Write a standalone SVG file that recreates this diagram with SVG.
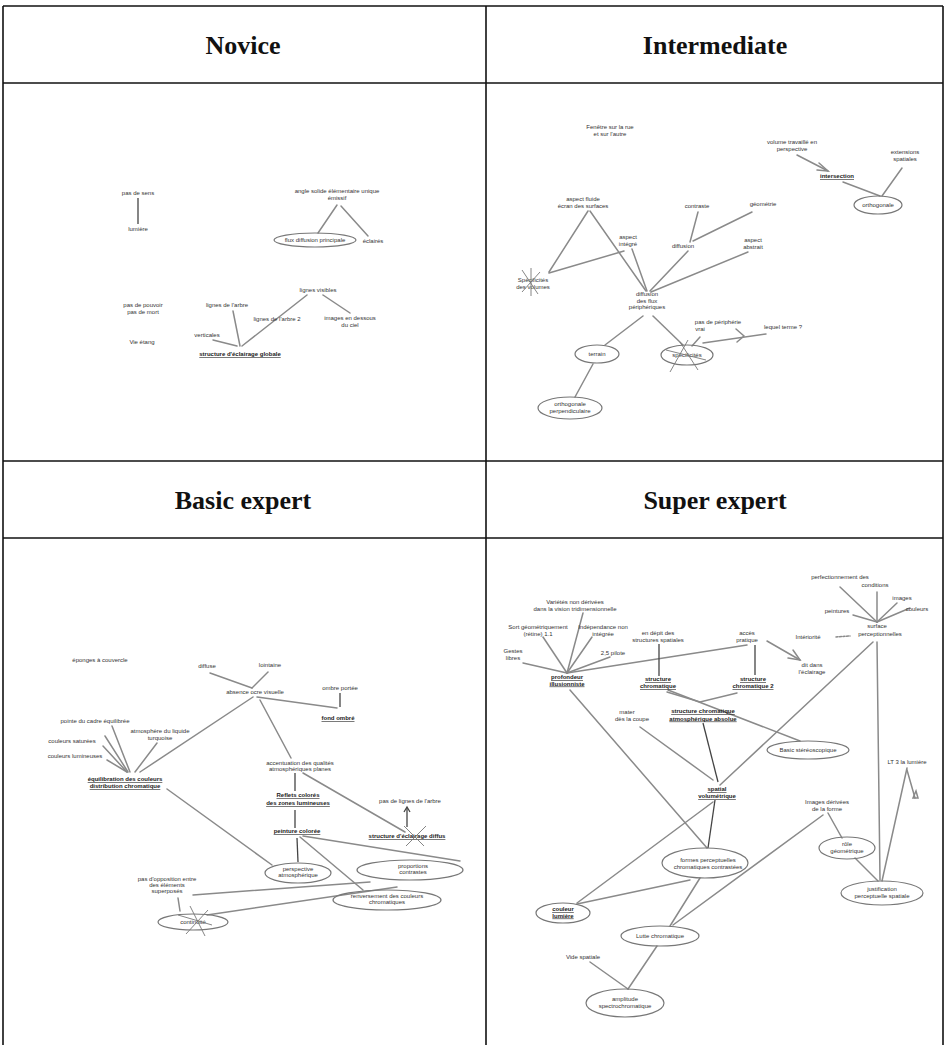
<svg xmlns="http://www.w3.org/2000/svg" width="946" height="1045" viewBox="0 0 946 1045">
<style>
.grid{stroke:#111;stroke-width:1.6;fill:none}
.hd{font-family:"Liberation Serif","Times New Roman",serif;font-weight:bold;font-size:26px;fill:#111;text-anchor:middle}
.t{font-family:"Liberation Sans",Arial,sans-serif;font-size:6px;fill:#333;text-anchor:middle}
.u{font-family:"Liberation Sans",Arial,sans-serif;font-size:6px;fill:#222;font-weight:bold;text-anchor:middle;text-decoration:underline}
.ln{stroke:#8a8a8a;stroke-width:1.5;fill:none;stroke-linecap:round}
.dk{stroke:#444;stroke-width:1.3;fill:none}
.el{stroke:#777;stroke-width:1.2;fill:none}
.x{stroke:#777;stroke-width:0.9;fill:none}
</style>
<rect width="946" height="1045" fill="#fff"/>
<g id="table">
<line class="grid" x1="3" y1="6" x2="943" y2="6"/>
<line class="grid" x1="3" y1="83" x2="943" y2="83"/>
<line class="grid" x1="3" y1="461" x2="943" y2="461"/>
<line class="grid" x1="3" y1="538" x2="943" y2="538"/>
<line class="grid" x1="3" y1="6" x2="3" y2="1045"/>
<line class="grid" x1="486" y1="6" x2="486" y2="1045"/>
<line class="grid" x1="943" y1="6" x2="943" y2="1045"/>
<text class="hd" x="243" y="54">Novice</text>
<text class="hd" x="715" y="54">Intermediate</text>
<text class="hd" x="243" y="509">Basic expert</text>
<text class="hd" x="715" y="509">Super expert</text>
</g>
<g id="connectors">
<!-- Novice -->
<line class="dk" x1="138" y1="198" x2="138" y2="224"/>
<line class="ln" x1="337" y1="205" x2="318" y2="233"/>
<line class="ln" x1="341" y1="206" x2="368" y2="236"/>
<line class="ln" x1="307" y1="295" x2="242" y2="346"/>
<line class="ln" x1="323" y1="295" x2="350" y2="313"/>
<line class="ln" x1="233" y1="311" x2="240" y2="346"/>
<line class="ln" x1="213" y1="340" x2="237" y2="346"/>
<!-- Intermediate -->
<line class="ln" x1="588" y1="211" x2="549" y2="272"/>
<line class="ln" x1="590" y1="211" x2="646" y2="291"/>
<line class="ln" x1="549" y1="273" x2="624" y2="251"/>
<line class="ln" x1="632" y1="249" x2="647" y2="291"/>
<line class="ln" x1="698" y1="212" x2="690" y2="242"/>
<line class="ln" x1="752" y1="212" x2="693" y2="241"/>
<line class="ln" x1="688" y1="251" x2="650" y2="291"/>
<line class="ln" x1="748" y1="252" x2="651" y2="292"/>
<line class="ln" x1="797" y1="155" x2="828" y2="171"/>
<polyline class="ln" points="819,163 828,171 817,170"/>
<line class="ln" x1="843" y1="182" x2="880" y2="196"/>
<line class="ln" x1="902" y1="168" x2="882" y2="196"/>
<line class="ln" x1="643" y1="316" x2="605" y2="345"/>
<line class="ln" x1="653" y1="316" x2="683" y2="345"/>
<line class="ln" x1="700" y1="337" x2="692" y2="346"/>
<line class="ln" x1="703" y1="343" x2="766" y2="334"/>
<polyline class="ln" points="736,329 744,336 737,342"/>
<line class="ln" x1="593" y1="364" x2="575" y2="397"/>
<!-- Basic expert -->
<line class="ln" x1="112" y1="726" x2="130" y2="772"/>
<line class="ln" x1="105" y1="736" x2="128" y2="772"/>
<line class="ln" x1="103" y1="746" x2="127" y2="772"/>
<line class="ln" x1="107" y1="760" x2="127" y2="772"/>
<line class="ln" x1="157" y1="743" x2="135" y2="772"/>
<line class="ln" x1="253" y1="697" x2="140" y2="772"/>
<line class="ln" x1="167" y1="789" x2="272" y2="865"/>
<line class="ln" x1="210" y1="673" x2="252" y2="688"/>
<line class="ln" x1="268" y1="672" x2="252" y2="688"/>
<line class="dk" x1="340" y1="693" x2="340" y2="707"/>
<line class="ln" x1="257" y1="697" x2="337" y2="708"/>
<line class="ln" x1="260" y1="700" x2="291" y2="758"/>
<line class="dk" x1="295" y1="773" x2="295" y2="791"/>
<line class="dk" x1="295" y1="810" x2="295" y2="828"/>
<line class="ln" x1="303" y1="773" x2="405" y2="832"/>
<line class="dk" x1="407" y1="827" x2="407" y2="808"/>
<polyline class="dk" points="404,812 407,807 410,812"/>
<line class="dk" x1="297" y1="838" x2="298" y2="862"/>
<line class="ln" x1="300" y1="837" x2="363" y2="890"/>
<line class="ln" x1="303" y1="836" x2="460" y2="861"/>
<line class="ln" x1="193" y1="895" x2="370" y2="882"/>
<line class="ln" x1="207" y1="915" x2="397" y2="887"/>
<line class="ln" x1="180" y1="911" x2="178" y2="898"/>
<!-- Super expert -->
<line class="ln" x1="567" y1="673" x2="583" y2="613"/>
<line class="ln" x1="567" y1="673" x2="543" y2="637"/>
<line class="ln" x1="567" y1="673" x2="592" y2="637"/>
<line class="ln" x1="567" y1="673" x2="523" y2="663"/>
<line class="ln" x1="567" y1="673" x2="610" y2="657"/>
<line class="ln" x1="567" y1="673" x2="747" y2="645"/>
<line class="ln" x1="570" y1="690" x2="707" y2="848"/>
<line class="dk" x1="659" y1="644" x2="659" y2="676"/>
<polyline class="ln" points="667,692 700,702 737,693"/>
<line class="dk" x1="703" y1="723" x2="718" y2="782"/>
<line class="ln" x1="640" y1="727" x2="713" y2="780"/>
<line class="dk" x1="755" y1="645" x2="755" y2="675"/>
<line class="ln" x1="767" y1="641" x2="800" y2="660"/>
<polyline class="ln" points="788,658 800,660 793,650"/>
<line class="ln" x1="877" y1="622" x2="840" y2="587"/>
<line class="ln" x1="877" y1="622" x2="877" y2="592"/>
<line class="ln" x1="877" y1="622" x2="897" y2="603"/>
<line class="ln" x1="877" y1="622" x2="910" y2="608"/>
<line class="ln" x1="877" y1="622" x2="853" y2="615"/>
<line class="ln" x1="836" y1="637" x2="850" y2="636" stroke-dasharray="2 1.5"/>
<line class="ln" x1="873" y1="642" x2="720" y2="785"/>
<line class="ln" x1="877" y1="642" x2="880" y2="880"/>
<line class="ln" x1="668" y1="690" x2="800" y2="741"/>
<line class="dk" x1="715" y1="800" x2="708" y2="848"/>
<line class="ln" x1="713" y1="802" x2="577" y2="903"/>
<line class="ln" x1="690" y1="880" x2="577" y2="904"/>
<line class="ln" x1="700" y1="878" x2="670" y2="926"/>
<line class="ln" x1="673" y1="925" x2="823" y2="815"/>
<line class="ln" x1="657" y1="946" x2="628" y2="989"/>
<line class="ln" x1="590" y1="962" x2="628" y2="989"/>
<line class="ln" x1="907" y1="768" x2="882" y2="881"/>
<line class="ln" x1="907" y1="770" x2="915" y2="798"/>
<polygon class="ln" points="913,798 918,798 916,791"/>
<line class="ln" x1="828" y1="813" x2="842" y2="838"/>
<line class="ln" x1="855" y1="858" x2="878" y2="881"/>
</g>
<!-- Novice nodes -->
<g id="n1"><text class="t" x="138" y="195">pas de sens</text></g>
<g id="n2"><text class="t" x="138" y="231">lumière</text></g>
<g id="n3"><text class="t" x="337" y="193">angle solide élémentaire unique<tspan x="337" dy="6.5">émissif</tspan></text></g>
<g id="n4"><ellipse class="el" cx="315" cy="240" rx="41" ry="7"/><text class="t" x="315" y="242">flux diffusion principale</text></g>
<g id="n5"><text class="t" x="373" y="243">éclairés</text></g>
<g id="n6"><text class="t" x="143" y="307">pas de pouvoir<tspan x="143" dy="6.5">pas de mort</tspan></text></g>
<g id="n7"><text class="t" x="142" y="344">Vie étang</text></g>
<g id="n8"><text class="t" x="318" y="292">lignes visibles</text></g>
<g id="n9"><text class="t" x="227" y="307">lignes de l'arbre</text></g>
<g id="n10"><text class="t" x="277" y="321">lignes de l'arbre 2</text></g>
<g id="n11"><text class="t" x="350" y="320">images en dessous<tspan x="350" dy="6.5">du ciel</tspan></text></g>
<g id="n12"><text class="t" x="207" y="337">verticales</text></g>
<g id="n13"><text class="u" x="240" y="356">structure d'éclairage globale</text></g>
<!-- Intermediate nodes -->
<g id="i1"><text class="t" x="610" y="129">Fenêtre sur la rue<tspan x="610" dy="6.5">et sur l'autre</tspan></text></g>
<g id="i2"><text class="t" x="583" y="201">aspect fluide<tspan x="583" dy="6.5">écran des surfaces</tspan></text></g>
<g id="i3"><text class="t" x="628" y="239">aspect<tspan x="628" dy="6.5">intégré</tspan></text></g>
<g id="i4"><text class="t" x="697" y="208">contraste</text></g>
<g id="i5"><text class="t" x="683" y="248">diffusion</text></g>
<g id="i6"><text class="t" x="763" y="206">géométrie</text></g>
<g id="i7"><text class="t" x="753" y="242">aspect<tspan x="753" dy="6.5">abstrait</tspan></text></g>
<g id="i8"><text class="t" x="533" y="282">Spécificités<tspan x="533" dy="6.5">des volumes</tspan></text>
<path class="x" d="M522,270 L538,294 M540,272 L522,292 M531,268 L531,296"/></g>
<g id="i9"><text class="t" x="647" y="296">diffusion<tspan x="647" dy="6.5">des flux</tspan><tspan x="647" dy="6.5">périphériques</tspan></text></g>
<g id="i10"><text class="t" x="792" y="144">volume travaillé en<tspan x="792" dy="6.5">perspective</tspan></text></g>
<g id="i11"><text class="u" x="837" y="178">intersection</text></g>
<g id="i12"><text class="t" x="905" y="154">extensions<tspan x="905" dy="6.5">spatiales</tspan></text></g>
<g id="i13"><ellipse class="el" cx="878" cy="205" rx="24" ry="9"/><text class="t" x="878" y="207">orthogonale</text></g>
<g id="i14"><ellipse class="el" cx="597" cy="354" rx="22" ry="9"/><text class="t" x="597" y="356">terrain</text></g>
<g id="i15"><ellipse class="el" cx="687" cy="355" rx="26" ry="10"/><text class="t" x="687" y="357">spécificités</text>
<path class="x" d="M670,372 L688,340 M698,370 L680,342 M666,350 L706,360"/></g>
<g id="i16"><text class="t" x="718" y="324">pas de périphérie<tspan x="700" dy="7">vrai</tspan></text></g>
<g id="i17"><text class="t" x="783" y="329">lequel terme ?</text></g>
<g id="i18"><ellipse class="el" cx="570" cy="408" rx="32" ry="11"/><text class="t" x="570" y="406">orthogonale<tspan x="570" dy="6.5">perpendiculaire</tspan></text></g>
<!-- Basic expert nodes -->
<g id="b1"><text class="t" x="100" y="662">éponges à couvercle</text></g>
<g id="b2"><text class="t" x="95" y="723">pointe du cadre équilibrée</text></g>
<g id="b3"><text class="t" x="72" y="743">couleurs saturées</text></g>
<g id="b4"><text class="t" x="75" y="758">couleurs lumineuses</text></g>
<g id="b5"><text class="t" x="160" y="733">atmosphère du liquide<tspan x="160" dy="6.5">turquoise</tspan></text></g>
<g id="b6"><text class="u" x="125" y="781">équilibration des couleurs<tspan x="125" dy="7">distribution chromatique</tspan></text></g>
<g id="b7"><text class="t" x="207" y="668">diffuse</text></g>
<g id="b8"><text class="t" x="270" y="667">lointaine</text></g>
<g id="b9"><text class="t" x="255" y="694">absence ocre visuelle</text></g>
<g id="b10"><text class="t" x="340" y="690">ombre portée</text></g>
<g id="b11"><text class="u" x="338" y="720">fond ombré</text></g>
<g id="b12"><text class="t" x="300" y="765">accentuation des qualités<tspan x="300" dy="6">atmosphériques planes</tspan></text></g>
<g id="b13"><text class="u" x="298" y="797">Reflets colorés<tspan x="298" dy="8">des zones lumineuses</tspan></text></g>
<g id="b14"><text class="u" x="297" y="833">peinture colorée</text></g>
<g id="b15"><text class="t" x="410" y="803">pas de lignes de l'arbre</text></g>
<g id="b16"><text class="u" x="407" y="838">structure d'éclairage diffus</text>
<path class="x" d="M404,826 L424,846 M426,826 L406,846"/></g>
<g id="b17"><ellipse class="el" cx="298" cy="873" rx="33" ry="10"/><text class="t" x="298" y="871">perspective<tspan x="298" dy="6">atmosphérique</tspan></text></g>
<g id="b18"><ellipse class="el" cx="410" cy="870" rx="53" ry="10"/><text class="t" x="413" y="868">proportions<tspan x="413" dy="6">contrastes</tspan></text></g>
<g id="b19"><ellipse class="el" cx="387" cy="900" rx="54" ry="10"/><text class="t" x="387" y="898">renversement des couleurs<tspan x="387" dy="6">chromatiques</tspan></text></g>
<g id="b20"><text class="t" x="167" y="881">pas d'opposition entre<tspan x="167" dy="6">des éléments</tspan><tspan x="167" dy="6">superposés</tspan></text></g>
<g id="b21"><ellipse class="el" cx="193" cy="922" rx="35" ry="8"/><text class="t" x="193" y="924">continuité</text>
<path class="x" d="M190,906 L205,936 M208,910 L186,934 M178,915 L212,925"/></g>
<!-- Super expert nodes -->
<g id="s1"><text class="t" x="575" y="604">Variétés non dérivées<tspan x="575" dy="6.5">dans la vision tridimensionnelle</tspan></text></g>
<g id="s2"><text class="t" x="538" y="629">Sort géométriquement<tspan x="538" dy="6.5">(rétine) 1.1</tspan></text></g>
<g id="s3"><text class="t" x="603" y="629">Indépendance non<tspan x="603" dy="6.5">intégrée</tspan></text></g>
<g id="s4"><text class="t" x="513" y="653">Gestes<tspan x="513" dy="6.5">libres</tspan></text></g>
<g id="s5"><text class="t" x="613" y="655">2,5 pilote</text></g>
<g id="s6"><text class="t" x="658" y="635">en dépit des<tspan x="658" dy="6.5">structures spatiales</tspan></text></g>
<g id="s7"><text class="u" x="567" y="679">profondeur<tspan x="567" dy="6.5">illusionniste</tspan></text></g>
<g id="s8"><text class="u" x="658" y="681">structure<tspan x="658" dy="7">chromatique</tspan></text></g>
<g id="s9"><text class="t" x="627" y="714">mater<tspan x="632" dy="7">dès la coupe</tspan></text></g>
<g id="s10"><text class="u" x="703" y="713">structure chromatique<tspan x="703" dy="7.5">atmosphérique absolue</tspan></text></g>
<g id="s11"><text class="t" x="747" y="635">accès<tspan x="747" dy="6.5">pratique</tspan></text></g>
<g id="s12"><text class="u" x="753" y="681">structure<tspan x="753" dy="7">chromatique 2</tspan></text></g>
<g id="s13"><text class="t" x="812" y="667">dit dans<tspan x="812" dy="6.5">l'éclairage</tspan></text></g>
<g id="s14"><text class="t" x="840" y="579">perfectionnement des<tspan x="875" dy="8">conditions</tspan></text></g>
<g id="s15"><text class="t" x="902" y="600">images</text></g>
<g id="s16"><text class="t" x="917" y="611">couleurs</text></g>
<g id="s17"><text class="t" x="837" y="613">peintures</text></g>
<g id="s18"><text class="t" x="877" y="628">surface<tspan x="880" dy="7.5">perceptionnelles</tspan></text></g>
<g id="s19"><text class="t" x="808" y="639">Intériorité</text></g>
<g id="s20"><ellipse class="el" cx="808" cy="750" rx="41" ry="9"/><text class="t" x="808" y="752">Basic stéréoscopique</text></g>
<g id="s21"><text class="u" x="717" y="791">spatial<tspan x="717" dy="7">volumétrique</tspan></text></g>
<g id="s22"><ellipse class="el" cx="705" cy="863" rx="43" ry="15"/><text class="t" x="708" y="862">formes perceptuelles<tspan x="708" dy="6.5">chromatiques contrastées</tspan></text></g>
<g id="s23"><ellipse class="el" cx="563" cy="913" rx="27" ry="10"/><text class="u" x="563" y="911">couleur<tspan x="563" dy="6.5">lumière</tspan></text></g>
<g id="s24"><ellipse class="el" cx="660" cy="936" rx="39" ry="10"/><text class="t" x="660" y="938">Lutte chromatique</text></g>
<g id="s25"><text class="t" x="583" y="959">Vide spatiale</text></g>
<g id="s26"><ellipse class="el" cx="625" cy="1003" rx="39" ry="14"/><text class="t" x="625" y="1001">amplitude<tspan x="625" dy="6.5">spectrochromatique</tspan></text></g>
<g id="s27"><text class="t" x="907" y="764">LT 3 la lumière</text></g>
<g id="s28"><text class="t" x="827" y="804">Images dérivées<tspan x="827" dy="6.5">de la forme</tspan></text></g>
<g id="s29"><ellipse class="el" cx="847" cy="848" rx="28" ry="11"/><text class="t" x="847" y="846">rôle<tspan x="847" dy="6.5">géométrique</tspan></text></g>
<g id="s30"><ellipse class="el" cx="882" cy="893" rx="41" ry="12"/><text class="t" x="882" y="891">justification<tspan x="882" dy="6.5">perceptuelle spatiale</tspan></text></g>
</svg>
